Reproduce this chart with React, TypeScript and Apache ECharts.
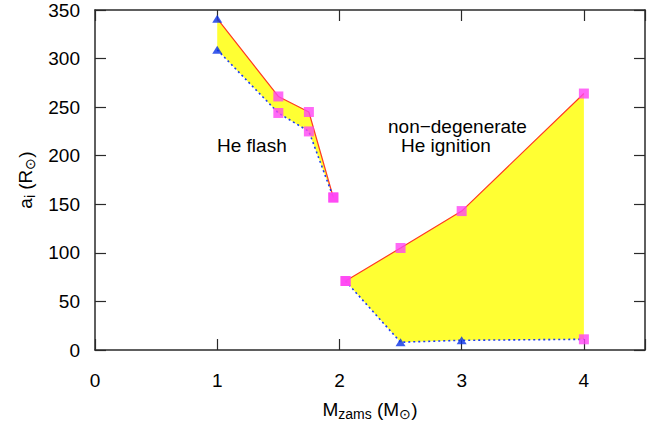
import React, { useEffect, useRef } from "react";
import * as echarts from "echarts";

// Helium-flash branch
const flashMass = [1, 1.5, 1.75, 1.95];
const flashUpper = [341, 261, 245, 157];
const flashLower = [309, 244, 225, 157];
const flashUpperSym = ["triangle", "rect", "rect", "rect"];
const flashLowerSym = ["triangle", "rect", "rect", "rect"];

// Non-degenerate helium ignition branch
const ignMass = [2.05, 2.5, 3, 4];
const ignUpper = [71, 105, 143, 264];
const ignLower = [71, 8, 10, 11];
const ignUpperSym = ["rect", "rect", "rect", "rect"];
const ignLowerSym = ["rect", "triangle", "triangle", "rect"];

const xTicks = [0, 1, 2, 3, 4];
const yTicks = [0, 50, 100, 150, 200, 250, 300, 350];

const FONT = "'Liberation Sans', Arial, Helvetica, sans-serif";
const RED = "#ff3a22";
const BLUE = "#1c3cf5";
const MAGENTA = "#ff44f4";
const TRI = "#0a32e6";
const YELLOW = "#ffff33";
const AXIS = "#2a2a2a";

const segments = [
  { x: flashMass, up: flashUpper, lo: flashLower, us: flashUpperSym, ls: flashLowerSym },
  { x: ignMass, up: ignUpper, lo: ignLower, us: ignUpperSym, ls: ignLowerSym },
];

export default function App() {
  const ref = useRef<HTMLDivElement>(null);
  useEffect(() => {
    if (!ref.current) return;
    const chart = echarts.init(ref.current, undefined, { renderer: "svg" });

    const lineSeries: any[] = [];
    segments.forEach((s) => {
      lineSeries.push({
        type: "line",
        data: s.x.map((x, i) => [x, s.up[i]]),
        showSymbol: false,
        lineStyle: { color: RED, width: 1.2 },
        z: 3,
      });
      lineSeries.push({
        type: "line",
        data: s.x.map((x, i) => [x, s.lo[i]]),
        showSymbol: false,
        lineStyle: { color: BLUE, width: 1.6, type: [2, 3] },
        z: 3,
      });
    });

    const markerData: any[] = [];
    segments.forEach((s) => {
      s.x.forEach((x, i) => {
        [
          [s.up[i], s.us[i]],
          [s.lo[i], s.ls[i]],
        ].forEach(([y, sym]) => {
          const tri = sym === "triangle";
          markerData.push({
            value: [x, y],
            symbol: sym,
            symbolSize: tri ? [10, 8] : 10,
            itemStyle: { color: tri ? TRI : MAGENTA },
          });
        });
      });
    });

    const axisCommon = {
      type: "value" as const,
      axisLine: { show: true, onZero: false, lineStyle: { color: AXIS, width: 1.5 } },
      axisTick: { show: true, inside: true, length: 11, lineStyle: { color: AXIS, width: 1.2 } },
      splitLine: { show: false },
    };

    const nameStyle = {
      fontFamily: FONT,
      fontSize: 19,
      color: "#000",
      rich: {
        sub: { fontFamily: FONT, fontSize: 14, verticalAlign: "bottom", padding: [9, 0, 0, 0] },
      },
    };

    chart.setOption({
      animation: false,
      backgroundColor: "#fff",
      grid: { left: 95, right: 24, top: 10, bottom: 74 },
      xAxis: [
        {
          ...axisCommon,
          min: 0,
          max: 4.5,
          interval: 1,
          position: "bottom",
          name: "M{sub|zams} (M{sub|⊙})",
          nameLocation: "middle",
          nameGap: 48,
          nameTextStyle: nameStyle,
          axisLabel: {
            fontFamily: FONT,
            fontSize: 19,
            color: "#000",
            margin: 21,
            formatter: (v: number) => (xTicks.includes(v) ? String(v) : ""),
          },
        },
        {
          ...axisCommon,
          min: 0,
          max: 4.5,
          interval: 1,
          position: "top",
          axisLabel: { show: false },
        },
      ],
      yAxis: [
        {
          ...axisCommon,
          min: 0,
          max: 350,
          interval: 50,
          position: "left",
          name: "a{sub|i} (R{sub|⊙})",
          nameLocation: "middle",
          nameGap: 55,
          nameTextStyle: nameStyle,
          axisLabel: {
            fontFamily: FONT,
            fontSize: 19,
            color: "#000",
            margin: 15,
            formatter: (v: number) => (yTicks.includes(v) ? String(v) : ""),
          },
        },
        {
          ...axisCommon,
          min: 0,
          max: 350,
          interval: 50,
          position: "right",
          axisLabel: { show: false },
        },
      ],
      series: [
        {
          type: "custom",
          data: segments.map((s) => [s.x[0], s.lo[0]]),
          renderItem: (params: any, api: any) => {
            const s = segments[params.dataIndex];
            const pts: number[][] = [];
            s.x.forEach((x, i) => pts.push(api.coord([x, s.up[i]])));
            for (let i = s.x.length - 1; i >= 0; i--) pts.push(api.coord([s.x[i], s.lo[i]]));
            return {
              type: "polygon",
              shape: { points: pts },
              style: { fill: YELLOW, stroke: null },
            };
          },
          z: 1,
          silent: true,
        },
        ...lineSeries,
        {
          type: "scatter",
          data: markerData,
          z: 5,
        },
      ],
      graphic: [
        {
          type: "text",
          left: 217,
          top: 136,
          style: { text: "He flash", fontFamily: FONT, fontSize: 19, fill: "#000" },
        },
        {
          type: "text",
          left: 388,
          top: 117,
          style: { text: "non−degenerate", fontFamily: FONT, fontSize: 19, fill: "#000" },
        },
        {
          type: "text",
          left: 401,
          top: 136,
          style: { text: "He ignition", fontFamily: FONT, fontSize: 19, fill: "#000" },
        },
      ],
    });
    return () => chart.dispose();
  }, []);
  return (
    <div
      ref={ref}
      style={{ position: "fixed", left: 0, top: 0, width: 669, height: 426, background: "#fff" }}
    />
  );
}
